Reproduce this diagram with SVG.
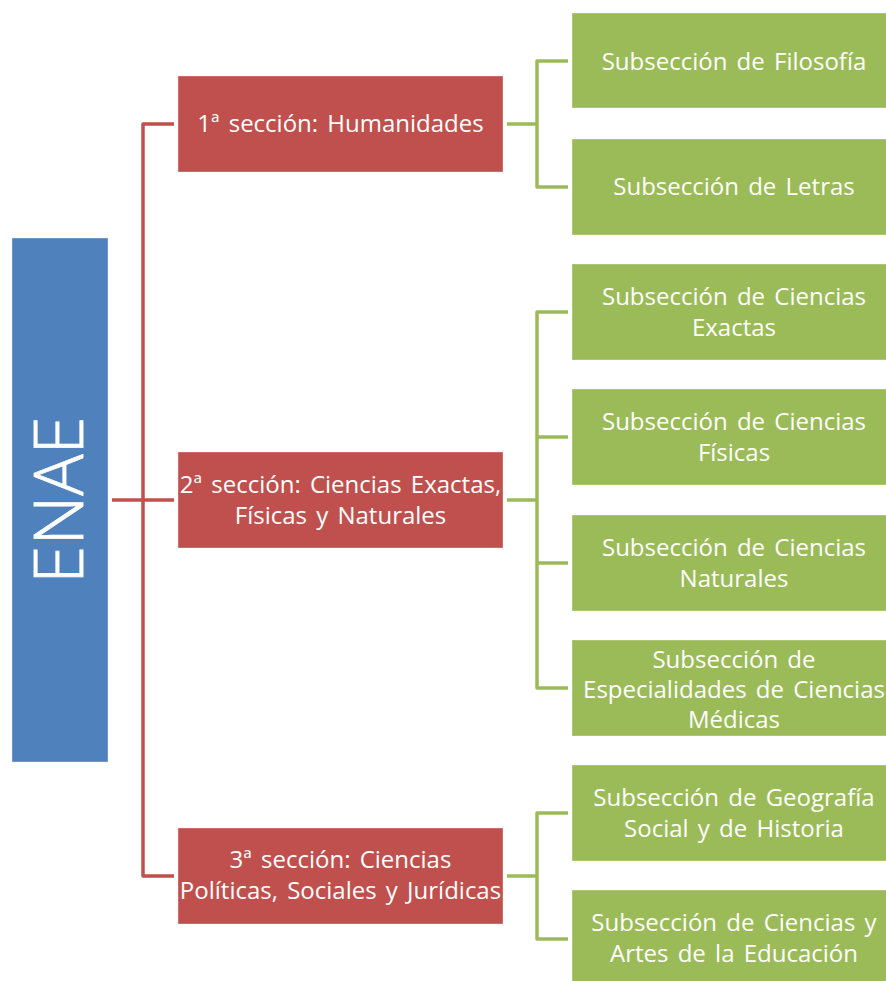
<svg xmlns="http://www.w3.org/2000/svg" width="886" height="981" viewBox="0 0 886 981">
<style>
.t{font-family:"Open Sans","Noto Sans","Liberation Sans",sans-serif;font-size:24px;fill:#fff;text-anchor:middle;word-spacing:3px}
.red{fill:#C0504D;stroke:#fff;stroke-opacity:0.35;stroke-width:1}
.grn{fill:#9BBB59;stroke:#fff;stroke-opacity:0.35;stroke-width:1}
.blu{fill:#4F81BD;stroke:#fff;stroke-opacity:0.35;stroke-width:1}
.cr{fill:none;stroke:#C0504D;stroke-width:3.5;stroke-linejoin:round}
.cg{fill:none;stroke:#9BBB59;stroke-width:3.5;stroke-linejoin:round}
</style>
<rect width="886" height="981" fill="#fff"/>
<g id="connectors">
<path class="cr" d="M112,500 H174"/>
<path class="cr" d="M174,124 H143 V876 H174"/>
<path class="cg" d="M507,124 H537"/>
<path class="cg" d="M568,61 H537 V187 H568"/>
<path class="cg" d="M507,500 H537"/>
<path class="cg" d="M568,312 H537 V688 H568 M537,437 H568 M537,563 H568"/>
<path class="cg" d="M507,876 H537"/>
<path class="cg" d="M568,813 H537 V939 H568"/>
</g>
<g id="enae">
<rect class="blu" x="12" y="238" width="96" height="524"/>
<text class="t" transform="translate(60,500) rotate(-90)" x="0" y="23" style="font-size:69px;font-weight:300;stroke:#fff;stroke-width:0.8px;word-spacing:0">ENAE</text>
</g>
<g id="sec1">
<rect class="red" x="178" y="76" width="325" height="96"/>
<text class="t" x="340.5" y="132">1ª sección: Humanidades</text>
</g>
<g id="sec2">
<rect class="red" x="178" y="452" width="325" height="96"/>
<text class="t" x="340.5" y="493">2ª sección: Ciencias Exactas,</text>
<text class="t" x="340.5" y="524">Físicas y Naturales</text>
</g>
<g id="sec3">
<rect class="red" x="178" y="828" width="325" height="96"/>
<text class="t" x="340.5" y="868">3ª sección: Ciencias</text>
<text class="t" x="340.5" y="899">Políticas, Sociales y Jurídicas</text>
</g>
<g id="filosofia">
<rect class="grn" x="572" y="13" width="320" height="95"/>
<text class="t" x="734" y="70">Subsección de Filosofía</text>
</g>
<g id="letras">
<rect class="grn" x="572" y="139" width="320" height="96"/>
<text class="t" x="734" y="195">Subsección de Letras</text>
</g>
<g id="exactas">
<rect class="grn" x="572" y="264" width="320" height="96"/>
<text class="t" x="734" y="305">Subsección de Ciencias</text>
<text class="t" x="734" y="336">Exactas</text>
</g>
<g id="fisicas">
<rect class="grn" x="572" y="389" width="320" height="96"/>
<text class="t" x="734" y="430">Subsección de Ciencias</text>
<text class="t" x="734" y="461">Físicas</text>
</g>
<g id="naturales">
<rect class="grn" x="572" y="515" width="320" height="96"/>
<text class="t" x="734" y="556">Subsección de Ciencias</text>
<text class="t" x="734" y="587">Naturales</text>
</g>
<g id="medicas">
<rect class="grn" x="572" y="640" width="320" height="96"/>
<text class="t" x="734" y="668">Subsección de</text>
<text class="t" x="734" y="698">Especialidades de Ciencias</text>
<text class="t" x="734" y="728">Médicas</text>
</g>
<g id="geografia">
<rect class="grn" x="572" y="765" width="320" height="96"/>
<text class="t" x="734" y="806">Subsección de Geografía</text>
<text class="t" x="734" y="837">Social y de Historia</text>
</g>
<g id="educacion">
<rect class="grn" x="572" y="890" width="320" height="100"/>
<text class="t" x="734" y="931">Subsección de Ciencias y</text>
<text class="t" x="734" y="962">Artes de la Educación</text>
</g>
</svg>
